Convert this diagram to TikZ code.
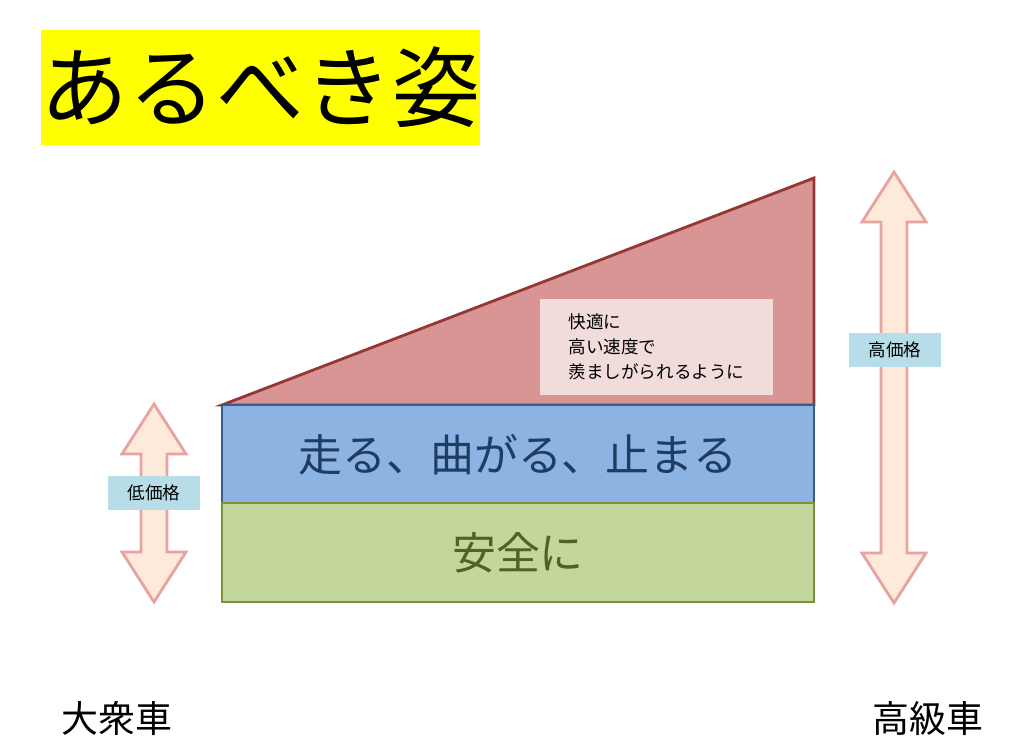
\documentclass[tikz,border=0pt]{standalone}
\usepackage{fontspec}
\newfontfamily\jp{Noto Sans CJK JP}
\definecolor{titleyellow}{HTML}{FFFF00}
\definecolor{redfill}{HTML}{D99594}
\definecolor{redline}{HTML}{953735}
\definecolor{pinkbox}{HTML}{F2DCDB}
\definecolor{bluefill}{HTML}{8DB3E2}
\definecolor{blueline}{HTML}{385D8A}
\definecolor{bluetext}{HTML}{1F3D63}
\definecolor{greenfill}{HTML}{C3D69B}
\definecolor{greenline}{HTML}{77933C}
\definecolor{greentext}{HTML}{4F6228}
\definecolor{arrowfill}{HTML}{FDEADA}
\definecolor{arrowline}{HTML}{E6A3A0}
\definecolor{pricebox}{HTML}{B7DEE8}
\begin{document}
\begin{tikzpicture}[x=0.01cm,y=-0.01cm,font=\jp]
\tikzstyle{pricelabel} = [fill=pricebox,font=\jp\fontsize{5}{6}\selectfont,minimum width=0.92cm,minimum height=0.34cm,inner sep=0pt]
\tikzstyle{dblarrow} = [fill=arrowfill,draw=arrowline,line width=0.8pt]
\useasboundingbox (0,0) rectangle (1021,751);
  %title
  \node[fill=titleyellow,minimum width=4.33cm,minimum height=1.15cm,inner sep=0pt,
        font=\jp\fontsize{25}{28}\selectfont] (title) at (260.5,87.5) {あるべき姿};
  %triangle
  \draw[fill=redfill,draw=redline,line width=0.8pt] (222,405) -- (814,178) -- (814,405) -- cycle;
  \node[fill=pinkbox,minimum width=2.33cm,minimum height=0.96cm,inner sep=0pt,align=left,
        font=\jp\fontsize{5}{7.2}\selectfont] (comfort) at (656.5,347)
        {快適に\\高い速度で\\羨ましがられるように};
  %bands
  \draw[fill=bluefill,draw=blueline,line width=0.8pt] (222,405) rectangle (814,503);
  \node[text=bluetext,font=\jp\fontsize{12.5}{14}\selectfont] (drive) at (518,455) {走る、曲がる、止まる};
  \draw[fill=greenfill,draw=greenline,line width=0.8pt] (222,503) rectangle (814,602);
  \node[text=greentext,font=\jp\fontsize{12.5}{14}\selectfont] (safe) at (518,553) {安全に};
  %arrows
  \draw[dblarrow] (154,404) -- (186,454) -- (167,454) -- (167,552) -- (186,552) -- (154,602)
        -- (122,552) -- (141,552) -- (141,454) -- (122,454) -- cycle;
  \node[pricelabel] (low) at (154,493) {低価格};
  \draw[dblarrow] (894,172) -- (926,222) -- (907,222) -- (907,553) -- (926,553) -- (894,603)
        -- (862,553) -- (881,553) -- (881,222) -- (862,222) -- cycle;
  \node[pricelabel] (high) at (895,350) {高価格};
  %cars
  \node[font=\jp\fontsize{10.5}{12}\selectfont] (mass) at (117,718) {大衆車};
  \node[font=\jp\fontsize{10.5}{12}\selectfont] (luxury) at (928,718) {高級車};
\end{tikzpicture}
\end{document}
